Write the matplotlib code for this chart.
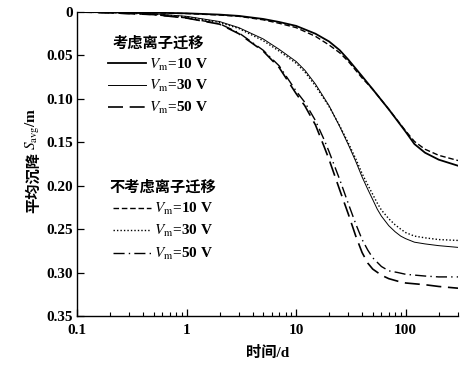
import matplotlib
matplotlib.use("Agg")
import matplotlib.pyplot as plt
from matplotlib.lines import Line2D
from matplotlib.ticker import FixedLocator, FixedFormatter, LogLocator, NullFormatter

plt.rcParams['font.family'] = ['Liberation Serif', 'Noto Sans CJK SC']
plt.rcParams['mathtext.fontset'] = 'stix'

# time (d)
t_10 = [0.1, 0.2, 0.5, 1, 2, 3, 5, 7, 10, 15, 20, 25, 30, 40, 50, 70, 100, 120, 150, 200, 300]
s_10_ion = [0.0, 0.0003, 0.0008, 0.0015, 0.003, 0.0045, 0.008, 0.0115, 0.016, 0.025, 0.034, 0.044,
            0.055, 0.074, 0.089, 0.112, 0.138, 0.152, 0.162, 0.170, 0.177]
s_10_no = [0.0, 0.0004, 0.001, 0.0018, 0.0035, 0.005, 0.009, 0.013, 0.018, 0.028, 0.038, 0.047,
           0.057, 0.076, 0.089, 0.112, 0.137, 0.149, 0.158, 0.165, 0.171]

t_30 = [0.1, 0.2, 0.5, 1, 2, 3, 5, 7, 10, 12, 15, 20, 25, 30, 35, 40, 45, 50, 55, 60, 70, 80, 90,
        100, 120, 150, 200, 300]
s_30_ion = [0.0, 0.0006, 0.002, 0.005, 0.011, 0.018, 0.031, 0.043, 0.057, 0.067, 0.083, 0.108,
            0.132, 0.153, 0.172, 0.190, 0.204, 0.216, 0.227, 0.235, 0.246, 0.253, 0.258,
            0.261, 0.265, 0.267, 0.269, 0.271]
s_30_no = [0.0, 0.0007, 0.0025, 0.0055, 0.012, 0.019, 0.033, 0.045, 0.059, 0.069, 0.085, 0.109,
           0.131, 0.151, 0.169, 0.186, 0.199, 0.210, 0.220, 0.228, 0.238, 0.245, 0.250,
           0.254, 0.258, 0.260, 0.262, 0.263]

t_50 = [0.1, 0.2, 0.5, 1, 2, 3, 5, 7, 10, 12, 15, 18, 20, 25, 30, 35, 40, 45, 50, 60, 70, 85,
        100, 150, 200, 300]
s_50_ion = [0.0, 0.001, 0.003, 0.007, 0.014, 0.025, 0.045, 0.064, 0.094, 0.108, 0.130, 0.155,
            0.170, 0.205, 0.233, 0.258, 0.277, 0.289, 0.296, 0.303, 0.307, 0.310,
            0.312, 0.314, 0.316, 0.318]
s_50_no = [0.0, 0.001, 0.003, 0.0068, 0.0135, 0.024, 0.044, 0.062, 0.091, 0.104, 0.125, 0.147,
           0.161, 0.193, 0.221, 0.244, 0.262, 0.274, 0.283, 0.293, 0.298, 0.300,
           0.302, 0.304, 0.305, 0.305]

y_ticks = [0, 0.05, 0.10, 0.15, 0.20, 0.25, 0.30, 0.35]
y_ticklabels = ['0', '0.05', '0.10', '0.15', '0.20', '0.25', '0.30', '0.35']
x_ticks = [0.1, 1, 10, 100]
x_ticklabels = ['0.1', '1', '10', '100']
labels = [r'$V_\mathrm{m}$=10 V', r'$V_\mathrm{m}$=30 V', r'$V_\mathrm{m}$=50 V']

fig = plt.figure(figsize=(4.76, 3.66), dpi=100)
ax = fig.add_axes([77/476, 50/366, 381/476, 304/366])

st_10_ion = dict(color='black', lw=1.3, ls='-')
st_30_ion = dict(color='black', lw=0.7, ls='-')
st_50_ion = dict(color='black', lw=1.2, ls=(0, (9, 4)))
st_10_no = dict(color='black', lw=1.0, ls=(0, (4, 2)))
st_30_no = dict(color='black', lw=1.0, ls=(0, (1, 1.5)))
st_50_no = dict(color='black', lw=1.0, ls=(0, (8, 3, 1, 3)))

ax.plot(t_10, s_10_ion, **st_10_ion)
ax.plot(t_30, s_30_ion, **st_30_ion)
ax.plot(t_50, s_50_ion, **st_50_ion)
ax.plot(t_10, s_10_no, **st_10_no)
ax.plot(t_30, s_30_no, **st_30_no)
ax.plot(t_50, s_50_no, **st_50_no)

ax.set_xscale('log')
ax.set_xlim(0.1, 300)
ax.set_ylim(0.35, 0)
ax.xaxis.set_major_locator(FixedLocator(x_ticks))
ax.xaxis.set_major_formatter(FixedFormatter(x_ticklabels))
ax.xaxis.set_minor_locator(LogLocator(base=10, subs=range(2, 10)))
ax.xaxis.set_minor_formatter(NullFormatter())
ax.yaxis.set_major_locator(FixedLocator(y_ticks))
ax.yaxis.set_major_formatter(FixedFormatter(y_ticklabels))

for s in ['top', 'right']:
    ax.spines[s].set_visible(False)
for s in ['left', 'bottom']:
    ax.spines[s].set_linewidth(1.0)

ax.tick_params(axis='both', which='major', direction='in', length=5, width=0.9,
               labelsize=11, pad=3)
ax.tick_params(axis='x', which='major', pad=6)
ax.tick_params(axis='x', which='minor', direction='in', length=3, width=0.8)
for lab in ax.get_xticklabels() + ax.get_yticklabels():
    lab.set_fontweight('bold')

ax.set_xlabel('时间/d', fontsize=11, fontweight='bold', labelpad=6)

# y label composed of CJK text and math text
yl1 = fig.text(33/476, (366-213)/366, '平均沉降', rotation=90, ha='center', va='bottom',
               fontsize=11, fontweight='bold', family=['Noto Sans CJK SC'])
fig.canvas.draw()
bb = yl1.get_window_extent()
fig.text(33/476, (bb.y1 + 2)/fig.bbox.height, r'$S_\mathrm{avg}$/m', rotation=90, ha='center',
         va='bottom', fontsize=11, fontweight='bold')

h1 = [Line2D([], [], **st_10_ion), Line2D([], [], **st_30_ion), Line2D([], [], **st_50_ion)]
h2 = [Line2D([], [], **st_10_no), Line2D([], [], **st_30_no), Line2D([], [], **st_50_no)]

leg1 = ax.legend(h1, labels, title='考虑离子迁移', loc='upper left',
                 bbox_to_anchor=(0.065, 0.94), frameon=False, fontsize=11,
                 title_fontsize=11, handlelength=2.5, handletextpad=0.2,
                 labelspacing=0.38, borderaxespad=0)
leg1.get_title().set_fontweight('bold')
ax.add_artist(leg1)
leg2 = ax.legend(h2, labels, title='不考虑离子迁移', loc='upper left',
                 bbox_to_anchor=(0.07, 0.467), frameon=False, fontsize=11,
                 title_fontsize=11, handlelength=2.5, handletextpad=0.2,
                 labelspacing=0.42, borderaxespad=0)
leg2.get_title().set_fontweight('bold')
for lg in (leg1, leg2):
    for tx in lg.get_texts():
        tx.set_fontweight('bold')

fig.savefig('out.png', dpi=100)
